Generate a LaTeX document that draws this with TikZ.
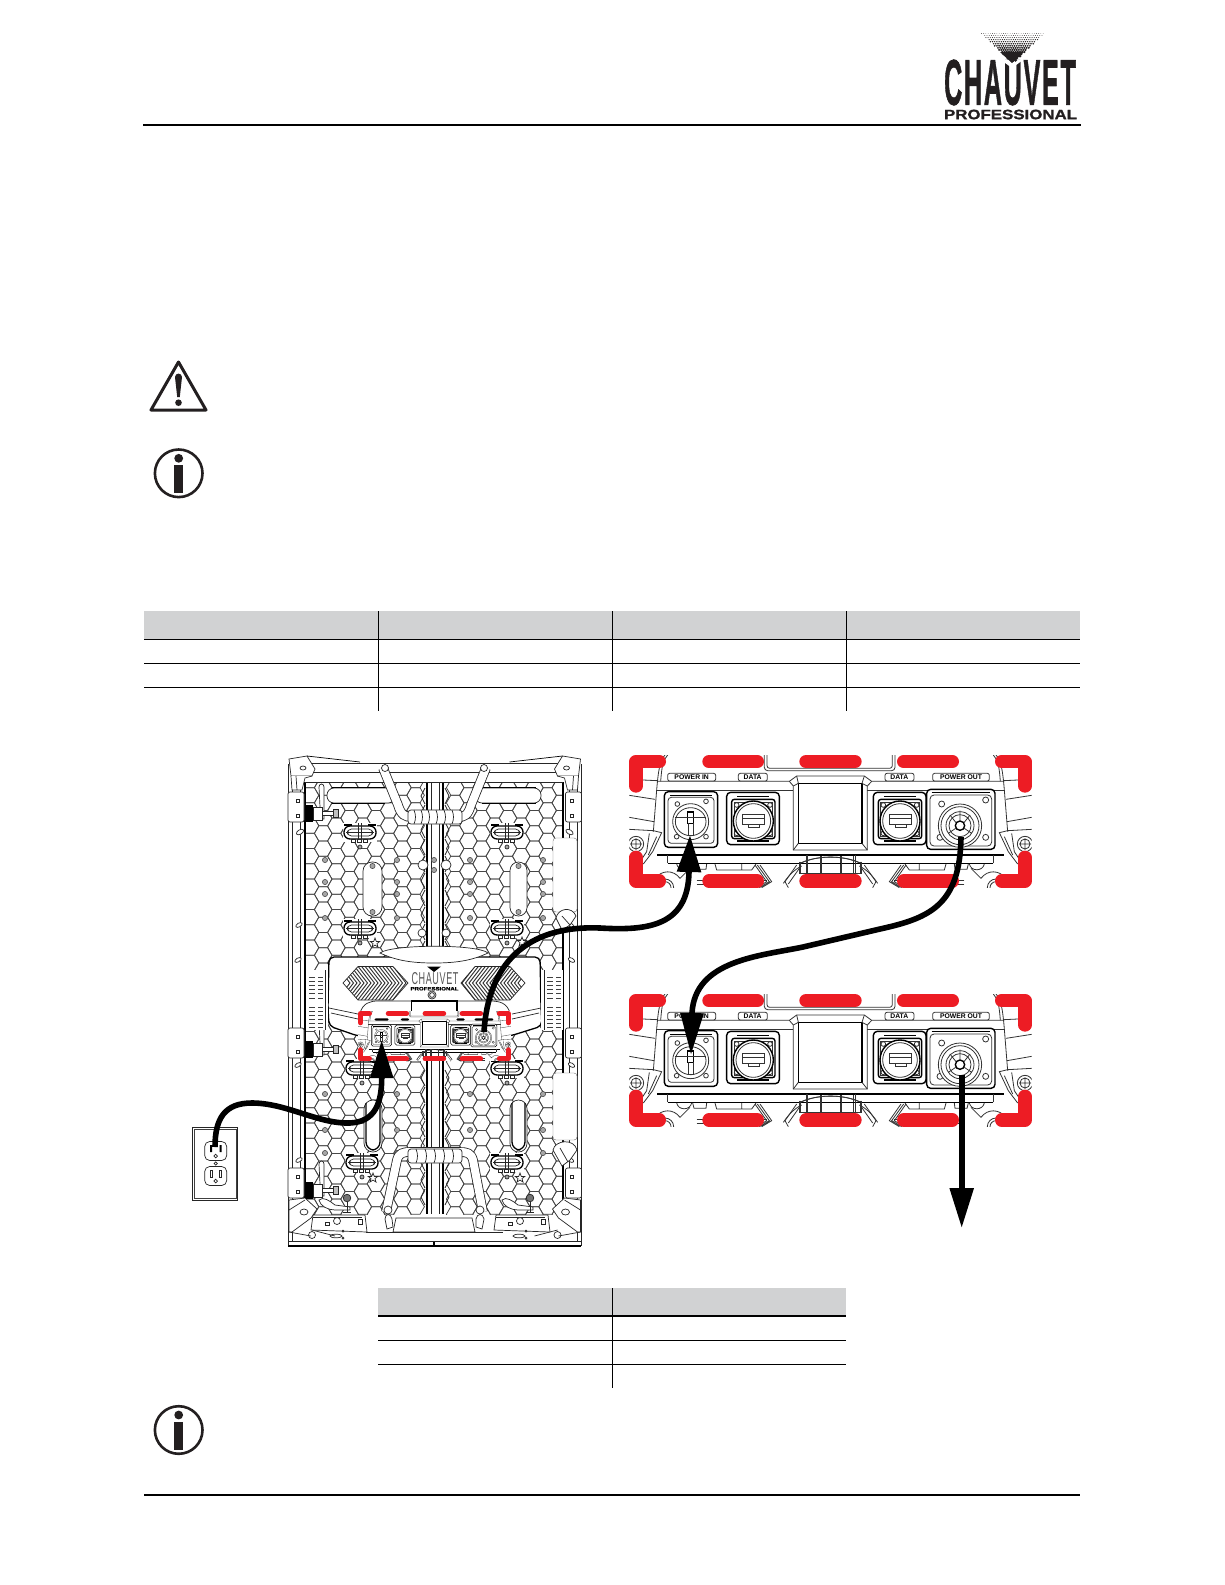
\documentclass[tikz,border=0pt]{standalone}
\usepackage{graphicx}
\usepackage{fontspec}
\setmainfont{Liberation Sans}
\newfontfamily\logofont{Liberation Sans}[BoldFeatures={FakeBold=1.2}]
\newfontfamily\logospaced{Liberation Sans}[BoldFeatures={FakeBold=1.4},LetterSpace=7]
\usetikzlibrary{arrows.meta}
\definecolor{redbox}{HTML}{ED1C24}
\definecolor{headgray}{HTML}{D1D2D3}
\definecolor{logoblack}{HTML}{231F20}
\tikzset{
  thinl/.style={line width=\uu*2.4pt,draw=black!80},
  thickl/.style={line width=\uu*4.2pt,draw=black},
  hexl/.style={line width=.75pt,draw=black!72},
  pl/.style={line width=.7pt,draw=black!85},
  pk/.style={line width=1.3pt,draw=black},
  tube/.style={line width=.8pt,double=white,double distance=8pt,draw=black!85},
  rule/.style={line width=1.3pt,draw=black},
  redl/.style={line width=\uu*40pt,draw=redbox,line cap=round,line join=round},
  cable/.style={line width=5.6pt,draw=black},
}
\newcommand{\hanger}[2]{\begin{scope}[shift={(#1,#2)}]
 \fill[white] (-17,-10) rectangle (17,9);
 \draw[pk,fill=white,rounded corners=6pt] (-16,-7) rectangle (16,6);
 \draw[pl,rounded corners=4pt] (-12.5,-4) rectangle (12.5,3);
 \draw[pk] (-16,-8) -- (-8,-8) (16,-8) -- (8,-8);
 \draw[pl] (-14,-1) -- (14,-1) (-1.6,-10) -- (-1.6,6) (1.6,-10) -- (1.6,6);
 \draw[pl,fill=white] (-9,6) rectangle (-5,9.5) (-3,6) rectangle (1,9.5) (3,6) rectangle (7,9.5);
 \draw[pl,fill=black!35] (0,14) circle[radius=2];
\end{scope}}
\newcommand{\gscrew}[2]{\draw[line width=.6pt,draw=black!70,fill=black!35] (#1,#2) circle[radius=2.6];}
\newcommand{\ovalmark}[4]{\draw[rotate around={#4:(#1,#2)},pl,fill=white] (#1,#2) circle[x radius=#3,y radius=#3*.55];}
\newcommand{\starmark}[2]{\draw[pl,fill=white,shift={(#1,#2)}] (0,-5) -- (1.3,-1.6) -- (4.8,-1.6) -- (2,.6) -- (3,4) -- (0,2) -- (-3,4) -- (-2,.6) -- (-4.8,-1.6) -- (-1.3,-1.6) -- cycle;}
\newcommand{\latchbolt}[2]{\begin{scope}[shift={(#1,#2)}]
 \draw[pl,fill=white] (-1,-26) .. controls (-1,-30) and (4,-30) .. (4,-26) -- (4,-6) -- (4,6) -- (0,6) -- (0,-6) -- cycle;
 \fill[black] (-14,-8) rectangle (-7,9);
 \draw[pl,fill=white] (-7,-6) rectangle (2,7);
 \draw[pl,fill=white] (2,-2) rectangle (13,2);
 \draw[pl,fill=black!25] (13,-4) rectangle (18,4);
\end{scope}}
\newcommand{\sidebracket}[2]{\begin{scope}[shift={(#1,#2)}]
 \draw[pl,fill=white,rounded corners=2pt] (0,0) rectangle (16,30);
 \draw[pl] (8,7) rectangle (11,10) (8,22) rectangle (11,25);
\end{scope}}
% half of the panel that is mirrored about the centre
\newcommand{\panelside}{%
 \draw[pl,fill=white] (289,759) -- (307,756) -- (315,769) -- (312,776) -- (291,776) -- cycle;
 \draw[pl] (303,768) circle[x radius=3,y radius=2];
 \draw[pl,fill=white] (291,776) -- (292,790) -- (302,790) -- (305,778) -- (312,776);
 \draw[pl] (296,776) -- (297,790);
 \draw[line width=.7pt] (307,756) -- (360,762);
 \ovalmark{300}{832}{4}{30}\ovalmark{299}{925}{3.5}{30}\ovalmark{298}{960}{3.5}{30}\ovalmark{298}{1065}{3.5}{30}\ovalmark{299}{1160}{3.5}{30}
 % bottom corner
 \draw[pl,fill=white] (289,1200) -- (305,1198) -- (317,1209) -- (311,1218) -- (292,1232) -- (289,1232) -- cycle;
 \draw[pl] (304,1212) circle[x radius=4,y radius=3];
 \draw[pl,fill=white] (312,1235) circle[radius=3.5];
 \draw[pl] (289,1232) -- (311,1236) (312,1230) -- (335,1236);
 \draw[pl] (289,1210) -- (305,1200);
}
\newcommand{\botblock}[1]{\begin{scope}[shift={(#1,0)}]
 \draw[pl,fill=white] (313,1215) -- (365,1215) -- (367,1232) -- (311,1230) -- cycle;
 \draw[pl] (313,1217) -- (362,1217);
 \draw[pl,fill=white] (337,1221) circle[radius=3.5];
 \draw[pl] (325,1222) rectangle (329,1225) (358,1219) rectangle (362,1224);
 \draw[pl,fill=white] (319,1200) .. controls (323,1196) and (330,1201) .. (335,1205) -- (350,1207) -- (350,1210) -- (335,1210) .. controls (328,1210) and (320,1206) .. (319,1200) -- cycle;
 \draw[pl,fill=black!55] (347,1198) circle[radius=3.8];
 \draw[pl] (347,1202) -- (347,1213) (343,1212) -- (351,1212);
 \draw[pl] (336,1236) circle[x radius=6,y radius=1.8] (343,1231) circle[radius=1] (343,1238) circle[radius=1] ;
\end{scope}}
% connector strip, local units are those of a 3x crop
\newcommand{\datajack}[1]{\begin{scope}[shift={(#1,0)}]
 \draw[thickl,rounded corners=\uu*12pt,fill=white] (-80,157) rectangle (78,314);
 \draw[thickl,rounded corners=\uu*8pt] (-65,178) rectangle (65,296);
 \draw[thickl] (-48,170) -- (48,170) (-48,303) -- (48,303);
 \draw[thinl] (-58,186) rectangle (58,288);
 \draw[thinl] (-50,195) circle[radius=7] (50,195) circle[radius=7] (-50,280) circle[radius=7] (50,280) circle[radius=7];
 \draw[thickl,fill=white] (0,243) circle[radius=60];
 \draw[thinl] (0,243) circle[radius=52];
 \draw[thinl,fill=white] (-33,222) -- (33,222) -- (33,253) -- (18,253) -- (18,263) -- (-15,263) -- (-15,253) -- (-33,253) -- cycle;
 \draw[thinl] (-33,236) -- (33,236) (-15,253) -- (18,253);
\end{scope}}
\newcommand{\stripside}{%
 \draw[thinl] (135,45) .. controls (120,60) and (115,90) .. (110,150) -- (100,275);
 \draw[thinl] (143,45) .. controls (128,60) and (125,85) .. (122,124);
 \draw[thinl] (28,118) -- (112,122) (28,166) -- (105,178) (28,232) -- (102,245) (28,268) -- (100,272);
 \draw[thinl] (100,272) -- (125,278) -- (98,335) -- (70,372) (88,280) -- (80,335) -- (60,365) (110,290) -- (85,345);
 \draw[thinl,fill=white] (48,312) circle[radius=23];
 \draw[thinl] (48,312) circle[radius=15] (30,312) -- (66,312) (48,295) -- (48,330);
 \draw[thickl] (112,345) -- (632,345);
 \draw[thinl] (143,345) -- (143,370);
 \draw[thickl] (143,370) -- (632,370);
 \draw[thinl] (170,372) .. controls (175,395) and (210,395) .. (215,372);
 \draw[thinl] (218,372) -- (222,388) -- (258,388) -- (260,372);
 \draw[thinl] (285,372) -- (290,390) -- (395,390) -- (408,372) (365,372) -- (365,390);
 \draw[thinl] (105,415) .. controls (125,390) and (160,388) .. (180,415) -- (210,385) ;
 \draw[thinl] (135,443) circle[radius=18] (135,443) circle[radius=26];
 \draw[thinl] (405,375) -- (440,425) -- (410,443) (420,375) -- (455,425) -- (425,443) (412,375) -- (448,425) -- (418,443);
 \draw[thinl] (230,420) -- (440,420) (230,432) -- (425,432);
 \draw[thinl] (495,425) -- (530,375) (505,432) -- (538,385) (495,425) -- (505,443);
 \draw[thinl] (490,430) .. controls (510,400) and (530,385) .. (545,378);
 \draw[thinl] (540,370) .. controls (590,345) and (670,345) .. (722,370);
 \draw[thinl] (538,365) -- (538,400) (558,345) -- (558,400) (600,348) -- (600,400) (660,348) -- (660,400) (700,345) -- (700,400) (722,365) -- (722,400);
 \draw[thinl] (538,400) -- (722,400);
}
\newcommand{\stripbox}[4]{% origin x, origin y, scale, 1 for labels
 \def\uu{#3}
 \begin{scope}[shift={(#1,#2)},x=#3pt,y=-#3pt]
 \fill[white] (28,45) rectangle (1235,443);
 \begin{scope}
 \clip (28,45) rectangle (1235,443);
 \stripside
 \begin{scope}[shift={(1263,0)},xscale=-1] \stripside \end{scope}
 \draw[thinl,rounded corners=\uu*10pt] (433,40) -- (433,92) -- (825,92) -- (825,40);
 \draw[thinl,rounded corners=\uu*8pt] (441,40) -- (441,85) -- (817,85) -- (817,40);
 \draw[thinl] (112,124) -- (508,124) -- (530,108) -- (733,108) -- (755,124) -- (1152,124);
 \draw[thinl] (108,150) -- (520,150) (742,150) -- (1155,150);
 \draw[thinl] (508,124) -- (520,138) -- (520,330) -- (742,330) -- (742,138) -- (755,124);
 \draw[thickl] (535,130) -- (726,130) -- (726,310) -- (535,310) -- cycle;
 \draw[thinl] (530,108) -- (535,130) (733,108) -- (726,130) (520,330) -- (535,310) (742,330) -- (726,310) (520,138) -- (535,130) (742,138) -- (726,130);
 % power in
 \draw[thickl,rounded corners=\uu*12pt,fill=white] (133,155) rectangle (293,322);
 \draw[thinl,rounded corners=\uu*10pt] (144,172) rectangle (282,310);
 \draw[thickl] (150,166) -- (276,166);
 \draw[thinl] (172,192) circle[radius=7] (258,184) circle[radius=7] (258,290) circle[radius=7] (170,290) circle[radius=7];
 \draw[thinl,fill=white] (212,245) circle[radius=54];
 \draw[thinl] (212,245) circle[x radius=46,y radius=42];
 \draw[thickl] (203,216) rectangle (221,250);
 \draw[thinl] (205,250) -- (205,285) -- (219,285) -- (219,250);
 \draw[thinl] (165,232) -- (258,232);
 \datajack{400}
 \datajack{840}
 % power out
 \draw[thickl,rounded corners=\uu*12pt,fill=white] (920,148) rectangle (1125,328);
 \draw[thinl,rounded corners=\uu*12pt] (930,165) rectangle (1115,318);
 \draw[thickl] (935,158) -- (1110,158);
 \draw[thinl] (965,192) circle[radius=9] (1097,180) circle[radius=9] (1097,292) circle[radius=9] (960,292) circle[radius=9];
 \draw[thinl,fill=white] (1020,257) circle[radius=65];
 \draw[thinl] (1020,257) circle[radius=57];
 \draw[thinl] (1020,257) circle[radius=42] (1020,257) circle[radius=33];
 \draw[thickl] (1020,257) circle[radius=14];
 \draw[thinl] (1020,212) -- (1020,243) (990,225) -- (1008,248) (1050,225) -- (1032,248) (985,280) -- (1007,265) (1055,280) -- (1033,265);
 % labels
 \ifnum#4=1
  \draw[thinl,rounded corners=\uu*6pt,fill=white] (143,100) rectangle (287,123) (355,100) rectangle (442,123) (795,100) rectangle (882,123) (938,100) rectangle (1108,123);
  \node[inner sep=0] (lblpin) at (215,112) {\fontsize{6.8}{7}\selectfont\bfseries POWER IN};
  \node[inner sep=0] (lbldata) at (398,112) {\fontsize{6.8}{7}\selectfont\bfseries DATA};
  \node[inner sep=0] (lbldatb) at (838,112) {\fontsize{6.8}{7}\selectfont\bfseries DATA};
  \node[inner sep=0] (lblpout) at (1023,112) {\fontsize{6.8}{7}\selectfont\bfseries POWER OUT};
 \else
  \fill[black,rounded corners=\uu*10pt] (158,103) rectangle (270,121) (365,103) rectangle (432,121) (805,103) rectangle (872,121) (948,103) rectangle (1098,121);
 \fi
 \end{scope}
 % red marks
 \draw[redl] (118,65) -- (48,65) -- (48,138);
 \draw[redl] (1145,65) -- (1215,65) -- (1215,138);
 \draw[redl] (48,352) -- (48,423) -- (118,423);
 \draw[redl] (1145,423) -- (1215,423) -- (1215,352);
 \draw[redl] (267,65) -- (412,65) (558,65) -- (705,65) (851,65) -- (997,65);
 \draw[redl] (267,423) -- (412,423) (558,423) -- (705,423) (851,423) -- (997,423);
 \end{scope}
}
\newcommand{\infoicon}[2]{\begin{scope}[shift={(#1,#2)}]
 \draw[line width=2.6pt,draw=logoblack] (0,0) circle[radius=23.8];
 \fill[logoblack] (0,-15) circle[radius=4.4];
 \fill[logoblack] (-4.7,-8.3) rectangle (4.7,20);
\end{scope}}
\begin{document}
\begin{tikzpicture}[x=1pt,y=-1pt]
\useasboundingbox (0,0) rectangle (1225,1585);
\fill[white] (0,0) rectangle (1225,1585);
% header rule and footer rule
\draw[line width=2.1pt] (143,125) -- (1081,125);
\draw[line width=2.2pt] (144,1495) -- (1080,1495);
% logo
\node[inner sep=0,text=logoblack] (logomain) at (1010,82.5) {\resizebox{131.7pt}{45pt}{\logospaced\bfseries CHAUVET}};
\node[inner sep=0,text=logoblack] (logosub) at (1010.5,114.5) {\resizebox{133pt}{9.5pt}{\logofont\bfseries PROFESSIONAL}};
\fill[white] (1001,60) -- (1012,68) -- (1023,60) -- cycle;
\foreach \rr in {0,...,13}{
  \pgfmathsetmacro\yy{33.5+2.05*\rr}
  \pgfmathsetmacro\hw{32.5*(63-\yy)/30}
  \pgfmathsetmacro\rad{.3+.11*\rr}
  \pgfmathtruncatemacro\nn{\hw/2.2}
  \foreach \kk in {-\nn,...,\nn}{
    \fill[logoblack] ({1012.3+\kk*2.2+mod(\rr,2)*1.1},\yy) circle[radius=\rad];
  }
}
\fill[logoblack] (1000,52) -- (1024,52) -- (1012,63) -- cycle;
% warning and info icons
\draw[line width=3pt,line join=round,draw=logoblack] (178.5,362) -- (206,410) -- (151,410) -- cycle;
\fill[logoblack] (175,377) .. controls (175.2,372.5) and (181.8,372.5) .. (182,377) -- (179.8,397) -- (177.2,397) -- cycle;
\fill[logoblack] (178.5,402.7) circle[radius=3.3];
\infoicon{178.7}{473.3}
\infoicon{178.7}{1430}
% table 1
\fill[headgray] (144,611) rectangle (1080,639);
\draw[rule] (144,639.3) -- (1080,639.3) (144,663.3) -- (1080,663.3) (144,687.3) -- (1080,687.3);
\draw[rule] (378.3,611) -- (378.3,710.7) (612.3,611) -- (612.3,710.7) (846.3,611) -- (846.3,710.7);
% table 2
\fill[headgray] (378,1288) rectangle (846,1316);
\draw[rule] (378,1316) -- (846,1316) (378,1340.3) -- (846,1340.3) (378,1364.3) -- (846,1364.3);
\draw[rule] (612.3,1288) -- (612.3,1387.7);
% panel : honeycomb
\begin{scope}
\clip (305,783) rectangle (563,1214);
\foreach \cc in {0,...,19}{
  \ifnum\cc=9 \else\ifnum\cc=10 \else
  \pgfmathsetmacro\hx{310+13.2*\cc}
  \pgfmathsetmacro\hy{mod(\cc,2)*7.62}
  \foreach \rr in {0,...,28}{
    \pgfmathsetmacro\yy{780+15.24*\rr+\hy}
    \draw[hexl] (\hx-8.8,\yy) -- (\hx-4.4,\yy-7.62) -- (\hx+4.4,\yy-7.62) -- (\hx+8.8,\yy) -- (\hx+4.4,\yy+7.62) -- (\hx-4.4,\yy+7.62) -- cycle;
  }
  \fi\fi
}
\end{scope}
% frame
\draw[pl] (288,764) -- (288,1246) (292,776) -- (292,1241) (581,764) -- (581,1246) (577,776) -- (577,1241);
\draw[pk] (305,782) -- (305,1218) (563,782) -- (563,1218);
\draw[pl] (300,776) -- (300,1198) (569,776) -- (569,1198);
\draw[pl] (307,763) -- (562,763) (312,772) -- (557,772) (305,782) -- (563,782);
\draw[pk] (288,1246) -- (581,1246);
\draw[pl] (288,1241) -- (581,1241);
\draw[pk] (434,1241) -- (434,1246);
\panelside
\begin{scope}[shift={(869.5,0)},xscale=-1] \panelside \end{scope}
\sidebracket{288}{792}\sidebracket{288}{1028}\sidebracket{288}{1168}
\begin{scope}[shift={(869.5,0)},xscale=-1]\sidebracket{288}{792}\sidebracket{288}{1028}\sidebracket{288}{1168}\end{scope}
% long bars
\draw[pl,fill=white,rounded corners=7pt] (327,788) rectangle (395,803);
\draw[pk] (332,803.5) -- (385,803.5) (332,787.5) -- (385,787.5);
\draw[pl,fill=white,rounded corners=7pt] (475,788) rectangle (541,803);
\draw[pk] (482,803.5) -- (536,803.5) (482,787.5) -- (536,787.5);
% centre column
\fill[white] (426,783) rectangle (444,1212);
\draw[pk] (427,783) -- (427,1214) (443,783) -- (443,1214);
\draw[pl] (431,783) -- (431,1214) (439,783) -- (439,1214);
\foreach \rr in {0,...,9}{
  \pgfmathsetmacro\yy{788+17*\rr}
  \draw[pl] (425,\yy) -- (421,\yy+8) -- (425,\yy+16) (445,\yy) -- (449,\yy+8) -- (445,\yy+16);
}
\foreach \rr in {0,...,7}{
  \pgfmathsetmacro\yy{1070+17*\rr}
  \draw[pl] (425,\yy) -- (421,\yy+8) -- (425,\yy+16) (445,\yy) -- (449,\yy+8) -- (445,\yy+16);
}
\gscrew{434}{860}\gscrew{434}{870}
\draw[pl,fill=white] (423,865) circle[radius=5] (446,865) circle[radius=5] (422,933) circle[radius=4] (446,933) circle[radius=4];
% slots
\draw[pl,fill=white,rounded corners=9pt] (363,862) rectangle (382,916);
\draw[pl,fill=white,rounded corners=8.5pt] (510,862) rectangle (527,916);
\draw[pl,fill=white,rounded corners=9pt] (364,1100) rectangle (382,1152);
\draw[pk,rounded corners=8pt] (366,1103) -- (366,1150) -- (380,1150) -- (380,1103);
\draw[pl,fill=white,rounded corners=8.5pt] (510,1100) rectangle (527,1152);
\draw[pk,rounded corners=8pt] (512,1103) -- (512,1150) -- (525,1150) -- (525,1103);
\gscrew{372.5}{866}\gscrew{372.5}{912}\gscrew{518.5}{866}\gscrew{518.5}{912}
% rivets
\foreach \xa in {325,397,470,543}{
  \foreach \ya in {860,882,894,918,1094,1130,1153}{ \gscrew{\xa}{\ya} }
}
% hangers
\hanger{360}{833}\hanger{507}{833}\hanger{360}{929}\hanger{507}{929}
\hanger{362}{1069}\hanger{507}{1069}\hanger{362}{1163}\hanger{507}{1163}
\starmark{375}{943}\starmark{522}{942}\starmark{373}{1178}\starmark{520}{1178}
% latches
\latchbolt{320}{813}\latchbolt{320}{1049}\latchbolt{320}{1190}
% hooks on the right
\draw[line width=.4pt,draw=black!55,fill=white,rounded corners=3pt] (553,838) rectangle (577,912);
\draw[line width=.4pt,draw=black!55,fill=white,rounded corners=3pt] (553,1073) rectangle (577,1140);
\draw[pl,fill=white] (556,918) .. controls (558,908) and (572,906) .. (576,916) -- (570,925) -- (562,930) -- cycle;
\draw[pl] (562,916) -- (570,925);
\draw[pl,fill=white] (553,1150) .. controls (555,1140) and (574,1138) .. (577,1150) -- (570,1160) -- (562,1166) -- cycle;
\draw[pl] (560,1148) -- (568,1162);
% top handle
\draw[tube] (383,768) -- (398,805) .. controls (401,815) and (405,817) .. (412,817) -- (458,817) .. controls (465,817) and (468,815) .. (471,805) -- (486,768);
\draw[pl,fill=white] (385,768) circle[radius=3.5] (484,768) circle[radius=3.5];
\draw[pl,fill=white,rounded corners=3pt] (408,810) rectangle (462,824);
\foreach \xa in {414,421,428,436,444,452}{\draw[pl] (\xa,810) .. controls (\xa+2,815) and (\xa+2,819) .. (\xa,824);}
% module housing
\draw[pk,fill=white,rounded corners=5pt] (329,957) -- (540,957) -- (541,1008) -- (542,1026) -- (510,1036) -- (358,1036) -- (329,1026) -- (328,1008) -- cycle;
\draw[pl,fill=white] (380,953) .. controls (395,960) and (410,963) .. (434,963) .. controls (458,963) and (473,960) .. (488,953) .. controls (478,944) and (392,944) .. (380,953) -- cycle;
\draw[pl] (329,1008) -- (358,1014) (331,1013) -- (358,1019) (541,1008) -- (512,1014) (539,1013) -- (512,1019);
\draw[pl] (360,1013) .. controls (363,1003) and (370,1001) .. (378,1001) -- (411.7,1001) (457,1001) -- (490,1001) .. controls (500,1001) and (507,1003) .. (510,1013);
\draw[pk,fill=white] (411.7,1001) rectangle (457,1016.7);
% module chevrons
\begin{scope}
\clip (343,983) -- (358,966.5) -- (393,966.5) -- (408,983) -- (393,1000) -- (358,1000) -- cycle;
\foreach \xa in {336,339.5,...,405}{\draw[line width=.95pt,draw=black!80] (\xa,965) -- (\xa+14,983) -- (\xa,1001);}
\end{scope}
\draw[pl] (343,983) -- (358,966.5) -- (393,966.5) -- (408,983) -- (393,1000) -- (358,1000) -- cycle;
\begin{scope}
\clip (525,983) -- (510,966.5) -- (475,966.5) -- (461,983) -- (475,1000) -- (510,1000) -- cycle;
\foreach \xa in {455,458.5,...,535}{\draw[line width=.95pt,draw=black!80] (\xa,965) -- (\xa-14,983) -- (\xa,1001);}
\end{scope}
\draw[pl] (525,983) -- (510,966.5) -- (475,966.5) -- (461,983) -- (475,1000) -- (510,1000) -- cycle;
\node[inner sep=0,text=black!65] (modlogo) at (435,978.5) {\resizebox{47pt}{12pt}{\logospaced CHAUVET}};
\node[inner sep=0] (modsub) at (434.5,988.7) {\resizebox{48pt}{3.4pt}{\logofont\bfseries PROFESSIONAL}};
\fill[black] (427,966.5) -- (441,966.5) -- (434,972) -- cycle;
\draw[pl] (432,995) circle[radius=4] (432,995) circle[radius=2.4];
% vents
\fill[white] (306,970) rectangle (328,1030);
\fill[white] (541,970) rectangle (563,1030);
\foreach \ya in {977,981,985,989.5,993.5,998,1007,1011,1015,1019,1023,1027}{
 \draw[line width=1pt,draw=black!75] (309,\ya) -- (315,\ya) (318,\ya) -- (323,\ya) (547,\ya) -- (553,\ya) (556,\ya) -- (561,\ya);
}
\draw[pl] (325,970) -- (325,1030) (544,970) -- (544,1030);
% bottom handle
\draw[tube] (386,1212) -- (397,1160) .. controls (399,1153) and (403,1152) .. (410,1152) -- (460,1152) .. controls (467,1152) and (471,1153) .. (473,1160) -- (483,1212);
\draw[pl,fill=white,rounded corners=3pt] (408,1149) rectangle (462,1163);
\foreach \xa in {416,425,434,443,452}{\draw[pl] (\xa,1149) .. controls (\xa+2,1154) and (\xa+2,1158) .. (\xa,1163);}
\draw[pl,fill=white] (388,1210) circle[radius=4] (480,1210) circle[radius=4];
\draw[pl,fill=white] (396,1218) -- (472,1218) -- (475,1232) -- (393,1232) -- cycle;
\draw[pl,fill=white] (385,1219) .. controls (385,1213) and (391,1213) .. (392,1219) -- (393,1227) -- (387,1229) -- cycle;
\draw[pl,fill=white] (476,1219) .. controls (477,1213) and (483,1213) .. (484,1219) -- (482,1229) -- (476,1227) -- cycle;
\draw[pl] (366,1232) -- (503,1232) (366,1241) -- (503,1241);
\botblock{0}
\botblock{183}
% outlet
\draw[line width=1pt,draw=black!85] (192.7,1127.3) rectangle (237.7,1200);
\draw[line width=.7pt,draw=black!75] (194.3,1129) rectangle (236,1198.3);
\foreach \ya in {1151,1176}{
  \draw[pl,rounded corners=5pt] (204.7,\ya-9.5) rectangle (226.7,\ya+9.5);
  \draw[pl] (215.7,\ya+5) circle[radius=1.8];
}
\fill[black] (210,1145) rectangle (212,1152) (219.5,1145) rectangle (221.5,1152);
\draw[pl] (210,1170) rectangle (212,1177) (219.5,1170) rectangle (221.5,1177);
\draw[pl] (215.7,1163.5) circle[radius=1.6];
% connector strips
\stripbox{620}{740}{.33333}{1}
\stripbox{620}{979}{.33333}{1}
\stripbox{354.5}{1005.3}{.1265}{0}
% cables
\coordinate (outlet) at (215,1147);
\coordinate (inpanel) at (381.7,1040);
\coordinate (outpanel) at (484,1032);
\coordinate (inA) at (690,835);
\coordinate (outA) at (961,837);
\coordinate (inB) at (691,1055);
\coordinate (outB) at (961.7,1075);
\coordinate (daisy) at (961.7,1228);
\draw[cable,-{Triangle[length=38pt,width=22pt]}] (outlet) .. controls (215,1118) and (225,1103) .. (252,1103) .. controls (285,1103) and (315,1122) .. (345,1123) .. controls (372,1124) and (381.7,1108) .. (381.7,1078) -- (inpanel);
\draw[cable,-{Triangle[length=37pt,width=23pt]}] (outpanel) .. controls (488,965) and (525,925) .. (600,928) .. controls (650,931) and (688,925) .. (689,872) -- (inA);
\draw[cable,-{Triangle[length=42pt,width=22pt]}] (outA) .. controls (960,905) and (930,918) .. (880,929) -- (803,947) .. controls (760,956) and (695,960) .. (692,1013) -- (inB);
\draw[cable,-{Triangle[length=40pt,width=23pt]}] (outB) -- (daisy);
\end{tikzpicture}
\end{document}
